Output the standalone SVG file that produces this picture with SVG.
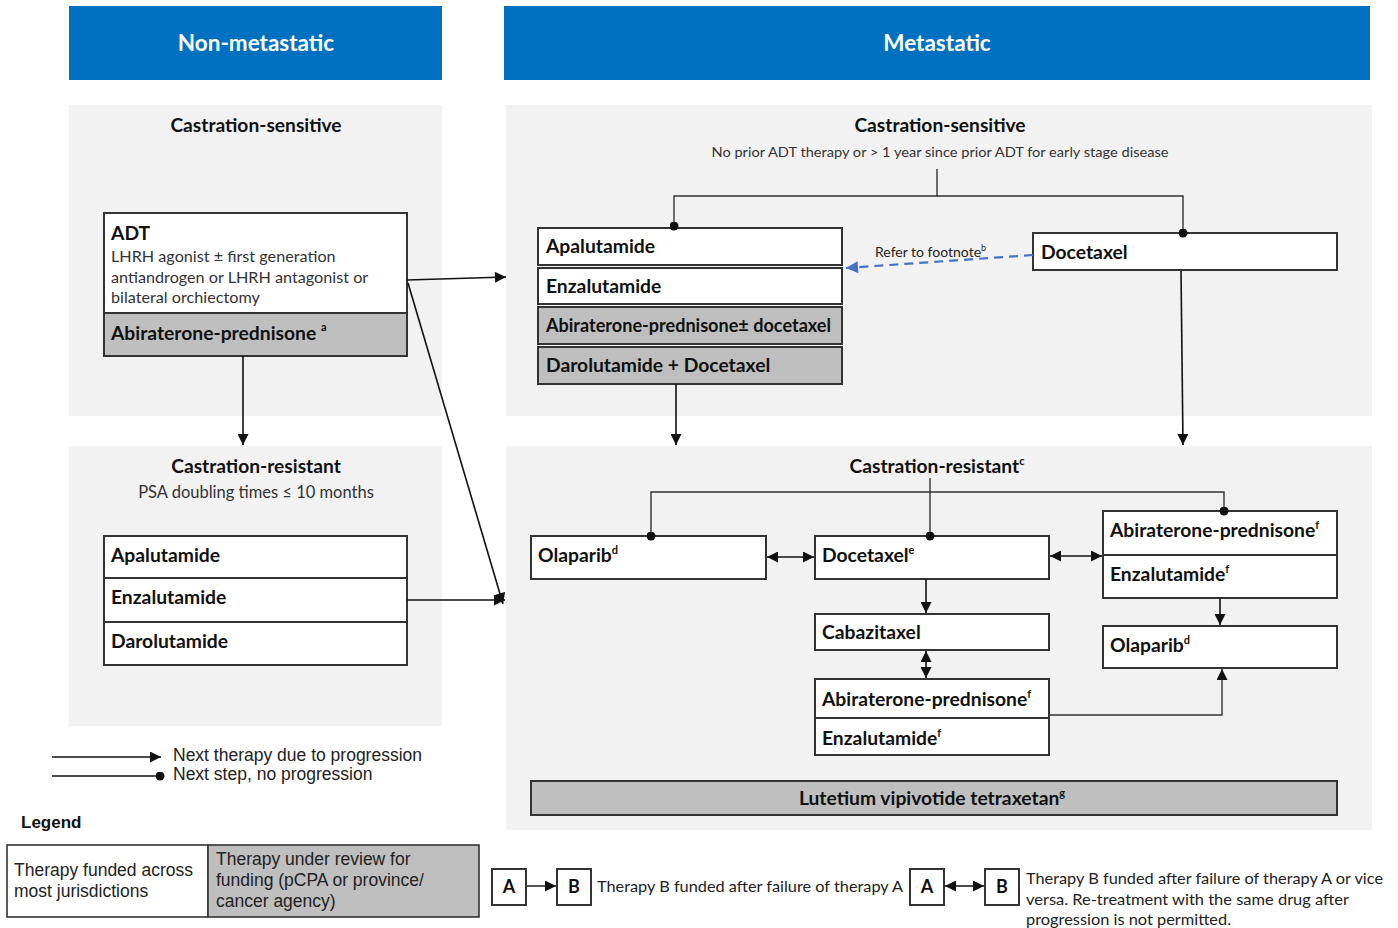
<svg xmlns="http://www.w3.org/2000/svg" width="1398" height="928" viewBox="0 0 1398 928">
<style>
  .hdr{fill:#0070C0}
  .hdrt{font-family:Lato,"Liberation Sans",sans-serif;font-weight:700;font-size:22.5px;fill:#fff;text-anchor:middle}
  .panel{fill:#F2F2F2}
  .ttl{font-family:Lato,"Liberation Sans",sans-serif;font-weight:700;font-size:19.2px;fill:#111;text-anchor:middle}
  .sub{font-family:Lato,"Liberation Sans",sans-serif;font-size:14px;fill:#333;text-anchor:middle}
  .box{fill:#fff;stroke:#333;stroke-width:2}
  .gbox{fill:#BFBFBF;stroke:#333;stroke-width:2}
  .bt{font-family:Lato,"Liberation Sans",sans-serif;font-weight:700;font-size:19.3px;fill:#111}
  .rt{font-family:Lato,"Liberation Sans",sans-serif;font-size:16.2px;fill:#333}
  .sup{font-size:11px}
  .con{fill:none;stroke:#111;stroke-width:1.6}
  .thin{fill:none;stroke:#333;stroke-width:1.4}
  .lg{font-family:"Liberation Sans",Arial,sans-serif;font-size:17.5px;fill:#222}
  .lgb{font-family:"Liberation Sans",Arial,sans-serif;font-size:17px;font-weight:700;fill:#111}
  .nt{font-family:Lato,"Liberation Sans",sans-serif;font-size:15px;fill:#222}
  .ab{font-family:Lato,"Liberation Sans",sans-serif;font-weight:700;font-size:18px;fill:#111;text-anchor:middle}
</style>
<defs>
  <marker id="arr" viewBox="0 0 10 10" refX="10" refY="5" markerWidth="12" markerHeight="11" markerUnits="userSpaceOnUse" orient="auto-start-reverse">
    <path d="M0,0 L10,5 L0,10 z" fill="#111"/>
  </marker>
  <marker id="barr" viewBox="0 0 10 10" refX="10" refY="5" markerWidth="13" markerHeight="12" markerUnits="userSpaceOnUse" orient="auto-start-reverse">
    <path d="M0,0 L10,5 L0,10 z" fill="#4472C4"/>
  </marker>
  <marker id="dot" viewBox="0 0 10 10" refX="5" refY="5" markerWidth="9" markerHeight="9" markerUnits="userSpaceOnUse">
    <circle cx="5" cy="5" r="5" fill="#111"/>
  </marker>
</defs>
<rect width="1398" height="928" fill="#fff"/>

<!-- Headers -->
<g id="hdr-nonmet">
  <rect class="hdr" x="69" y="6" width="373" height="74"/>
  <text class="hdrt" x="256" y="51">Non-metastatic</text>
</g>
<g id="hdr-met">
  <rect class="hdr" x="504" y="6" width="866" height="74"/>
  <text class="hdrt" x="937" y="51">Metastatic</text>
</g>

<!-- Panels -->
<g id="panel-nm-cs">
  <rect class="panel" x="69" y="105" width="373" height="311"/>
  <text class="ttl" x="256" y="132">Castration-sensitive</text>
</g>
<g id="panel-nm-cr">
  <rect class="panel" x="69" y="446" width="373" height="280"/>
  <text class="ttl" x="256" y="473">Castration-resistant</text>
  <text class="sub" x="256" y="498" style="font-size:16.5px">PSA doubling times ≤ 10 months</text>
</g>
<g id="panel-m-cs">
  <rect class="panel" x="506" y="105" width="866" height="311"/>
  <text class="ttl" x="940" y="132">Castration-sensitive</text>
  <text class="sub" x="940" y="157" textLength="457" lengthAdjust="spacingAndGlyphs">No prior ADT therapy or &gt; 1 year since prior ADT for early stage disease</text>
</g>
<g id="panel-m-cr">
  <rect class="panel" x="506" y="446" width="866" height="384"/>
  <text class="ttl" x="937" y="473">Castration-resistant<tspan class="sup" dy="-8">c</tspan></text>
</g>

<!-- Left top nodes -->
<g id="n-adt">
  <rect class="box" x="104" y="213" width="303" height="100"/>
  <text class="bt" x="111" y="240">ADT</text>
  <text class="rt" x="111" y="262">LHRH agonist ± first generation</text>
  <text class="rt" x="111" y="283">antiandrogen or LHRH antagonist or</text>
  <text class="rt" x="111" y="303">bilateral orchiectomy</text>
</g>
<g id="n-abi-nm">
  <rect class="gbox" x="104" y="313" width="303" height="43"/>
  <text class="bt" x="111" y="340">Abiraterone-prednisone <tspan class="sup" dy="-9">a</tspan></text>
</g>

<!-- Left bottom nodes -->
<g id="n-apa-nm">
  <rect class="box" x="104" y="536" width="303" height="42"/>
  <text class="bt" x="111" y="562">Apalutamide</text>
</g>
<g id="n-enz-nm">
  <rect class="box" x="104" y="578" width="303" height="44"/>
  <text class="bt" x="111" y="604">Enzalutamide</text>
</g>
<g id="n-dar-nm">
  <rect class="box" x="104" y="622" width="303" height="43"/>
  <text class="bt" x="111" y="648">Darolutamide</text>
</g>

<!-- Right top nodes -->
<g id="n-apa-m">
  <rect class="box" x="538" y="228" width="304" height="37"/>
  <text class="bt" x="546" y="253">Apalutamide</text>
</g>
<g id="n-enz-m">
  <rect class="box" x="538" y="268" width="304" height="36"/>
  <text class="bt" x="546" y="293">Enzalutamide</text>
</g>
<g id="n-abi-doc">
  <rect class="gbox" x="538" y="307" width="304" height="37"/>
  <text class="bt" x="546" y="332" textLength="285" lengthAdjust="spacingAndGlyphs">Abiraterone-prednisone± docetaxel</text>
</g>
<g id="n-dar-doc">
  <rect class="gbox" x="538" y="347" width="304" height="37"/>
  <text class="bt" x="546" y="372">Darolutamide + Docetaxel</text>
</g>
<g id="n-doc-cs">
  <rect class="box" x="1033" y="233" width="304" height="37"/>
  <text class="bt" x="1041" y="259">Docetaxel</text>
</g>

<!-- Right bottom nodes -->
<g id="n-ola1">
  <rect class="box" x="531" y="536" width="235" height="43"/>
  <text class="bt" x="538" y="562">Olaparib<tspan class="sup" dy="-8">d</tspan></text>
</g>
<g id="n-doc-cr">
  <rect class="box" x="815" y="536" width="234" height="43"/>
  <text class="bt" x="822" y="562">Docetaxel<tspan class="sup" dy="-8">e</tspan></text>
</g>
<g id="n-abi-cr1">
  <rect class="box" x="1103" y="511" width="234" height="44"/>
  <text class="bt" x="1110" y="537">Abiraterone-prednisone<tspan class="sup" dy="-8">f</tspan></text>
</g>
<g id="n-enz-cr1">
  <rect class="box" x="1103" y="555" width="234" height="43"/>
  <text class="bt" x="1110" y="581">Enzalutamide<tspan class="sup" dy="-8">f</tspan></text>
</g>
<g id="n-caba">
  <rect class="box" x="815" y="614" width="234" height="36"/>
  <text class="bt" x="822" y="639">Cabazitaxel</text>
</g>
<g id="n-ola2">
  <rect class="box" x="1103" y="626" width="234" height="42"/>
  <text class="bt" x="1110" y="652">Olaparib<tspan class="sup" dy="-8">d</tspan></text>
</g>
<g id="n-abi-cr2">
  <rect class="box" x="815" y="679" width="234" height="39"/>
  <text class="bt" x="822" y="706">Abiraterone-prednisone<tspan class="sup" dy="-8">f</tspan></text>
</g>
<g id="n-enz-cr2">
  <rect class="box" x="815" y="718" width="234" height="37"/>
  <text class="bt" x="822" y="745">Enzalutamide<tspan class="sup" dy="-8">f</tspan></text>
</g>
<g id="n-lu">
  <rect class="gbox" x="531" y="781" width="806" height="34"/>
  <text class="bt" x="932" y="805" text-anchor="middle">Lutetium vipivotide tetraxetan<tspan class="sup" dy="-8">g</tspan></text>
</g>

<!-- Connectors -->
<g id="connectors">
  <line class="con" x1="243" y1="356" x2="243" y2="445" marker-end="url(#arr)"/>
  <line class="con" x1="407" y1="280" x2="506" y2="277" marker-end="url(#arr)"/>
  <line class="con" x1="408" y1="283" x2="503" y2="604" marker-end="url(#arr)"/>
  <line class="con" x1="407" y1="600" x2="505" y2="600" marker-end="url(#arr)"/>

  <path class="thin" d="M937,169 V196 H674 V226" marker-end="url(#dot)"/>
  <path class="thin" d="M937,196 H1183 V233" marker-end="url(#dot)"/>
  <line x1="1033" y1="255" x2="846" y2="268" stroke="#4472C4" stroke-width="2.2" stroke-dasharray="9,6" marker-end="url(#barr)"/>
  <text class="nt" x="875" y="257" style="font-size:14px">Refer to footnote<tspan dy="-6" style="font-size:9px">b</tspan></text>
  <line class="con" x1="676" y1="384" x2="676" y2="445" marker-end="url(#arr)"/>
  <line class="con" x1="1181" y1="271" x2="1183" y2="445" marker-end="url(#arr)"/>

  <path class="thin" d="M930,478 V536" marker-end="url(#dot)"/>
  <path class="thin" d="M651,536 V492 H1224 V511" marker-start="url(#dot)" marker-end="url(#dot)"/>
  <line class="con" x1="767" y1="557" x2="814" y2="557" marker-start="url(#arr)" marker-end="url(#arr)"/>
  <line class="con" x1="1050" y1="556" x2="1102" y2="556" marker-start="url(#arr)" marker-end="url(#arr)"/>
  <line class="con" x1="926" y1="579" x2="926" y2="613" marker-end="url(#arr)"/>
  <line class="con" x1="926" y1="651" x2="926" y2="678" marker-start="url(#arr)" marker-end="url(#arr)"/>
  <line class="con" x1="1220" y1="598" x2="1220" y2="625" marker-end="url(#arr)"/>
  <path class="thin" d="M1049,715 H1222 V669" marker-end="url(#arr)"/>
</g>

<!-- Legend -->
<g id="legend-lines">
  <line class="con" x1="52" y1="757" x2="161" y2="757" marker-end="url(#arr)"/>
  <text class="lg" x="173" y="761">Next therapy due to progression</text>
  <line class="con" x1="52" y1="776" x2="160" y2="776" marker-end="url(#dot)"/>
  <text class="lg" x="173" y="780">Next step, no progression</text>
</g>
<g id="legend">
  <text class="lgb" x="21" y="828">Legend</text>
  <rect x="7" y="845" width="201" height="72" fill="#fff" stroke="#333" stroke-width="1.6"/>
  <rect x="208" y="845" width="271" height="72" fill="#BFBFBF" stroke="#333" stroke-width="1.6"/>
  <text class="lg" x="14" y="876">Therapy funded across</text>
  <text class="lg" x="14" y="897">most jurisdictions</text>
  <text class="lg" x="216" y="865">Therapy under review for</text>
  <text class="lg" x="216" y="886">funding (pCPA or province/</text>
  <text class="lg" x="216" y="907">cancer agency)</text>
</g>
<g id="legend-ab1">
  <rect class="box" x="492" y="869" width="34" height="36"/>
  <text class="ab" x="509" y="893">A</text>
  <rect class="box" x="557" y="869" width="34" height="36"/>
  <text class="ab" x="574" y="893">B</text>
  <line x1="527" y1="886" x2="556" y2="886" stroke="#555" stroke-width="2" marker-end="url(#arr)"/>
  <text class="nt" x="597" y="892" textLength="306" lengthAdjust="spacingAndGlyphs">Therapy B funded after failure of therapy A</text>
</g>
<g id="legend-ab2">
  <rect class="box" x="910" y="869" width="34" height="36"/>
  <text class="ab" x="927" y="893">A</text>
  <rect class="box" x="985" y="869" width="34" height="36"/>
  <text class="ab" x="1002" y="893">B</text>
  <line class="con" x1="945" y1="886" x2="984" y2="886" marker-start="url(#arr)" marker-end="url(#arr)"/>
  <text class="nt" x="1026" y="884" textLength="357" lengthAdjust="spacingAndGlyphs">Therapy B funded after failure of therapy A or vice</text>
  <text class="nt" x="1026" y="905" textLength="323" lengthAdjust="spacingAndGlyphs">versa. Re-treatment with the same drug after</text>
  <text class="nt" x="1026" y="925" textLength="205" lengthAdjust="spacingAndGlyphs">progression is not permitted.</text>
</g>
</svg>
